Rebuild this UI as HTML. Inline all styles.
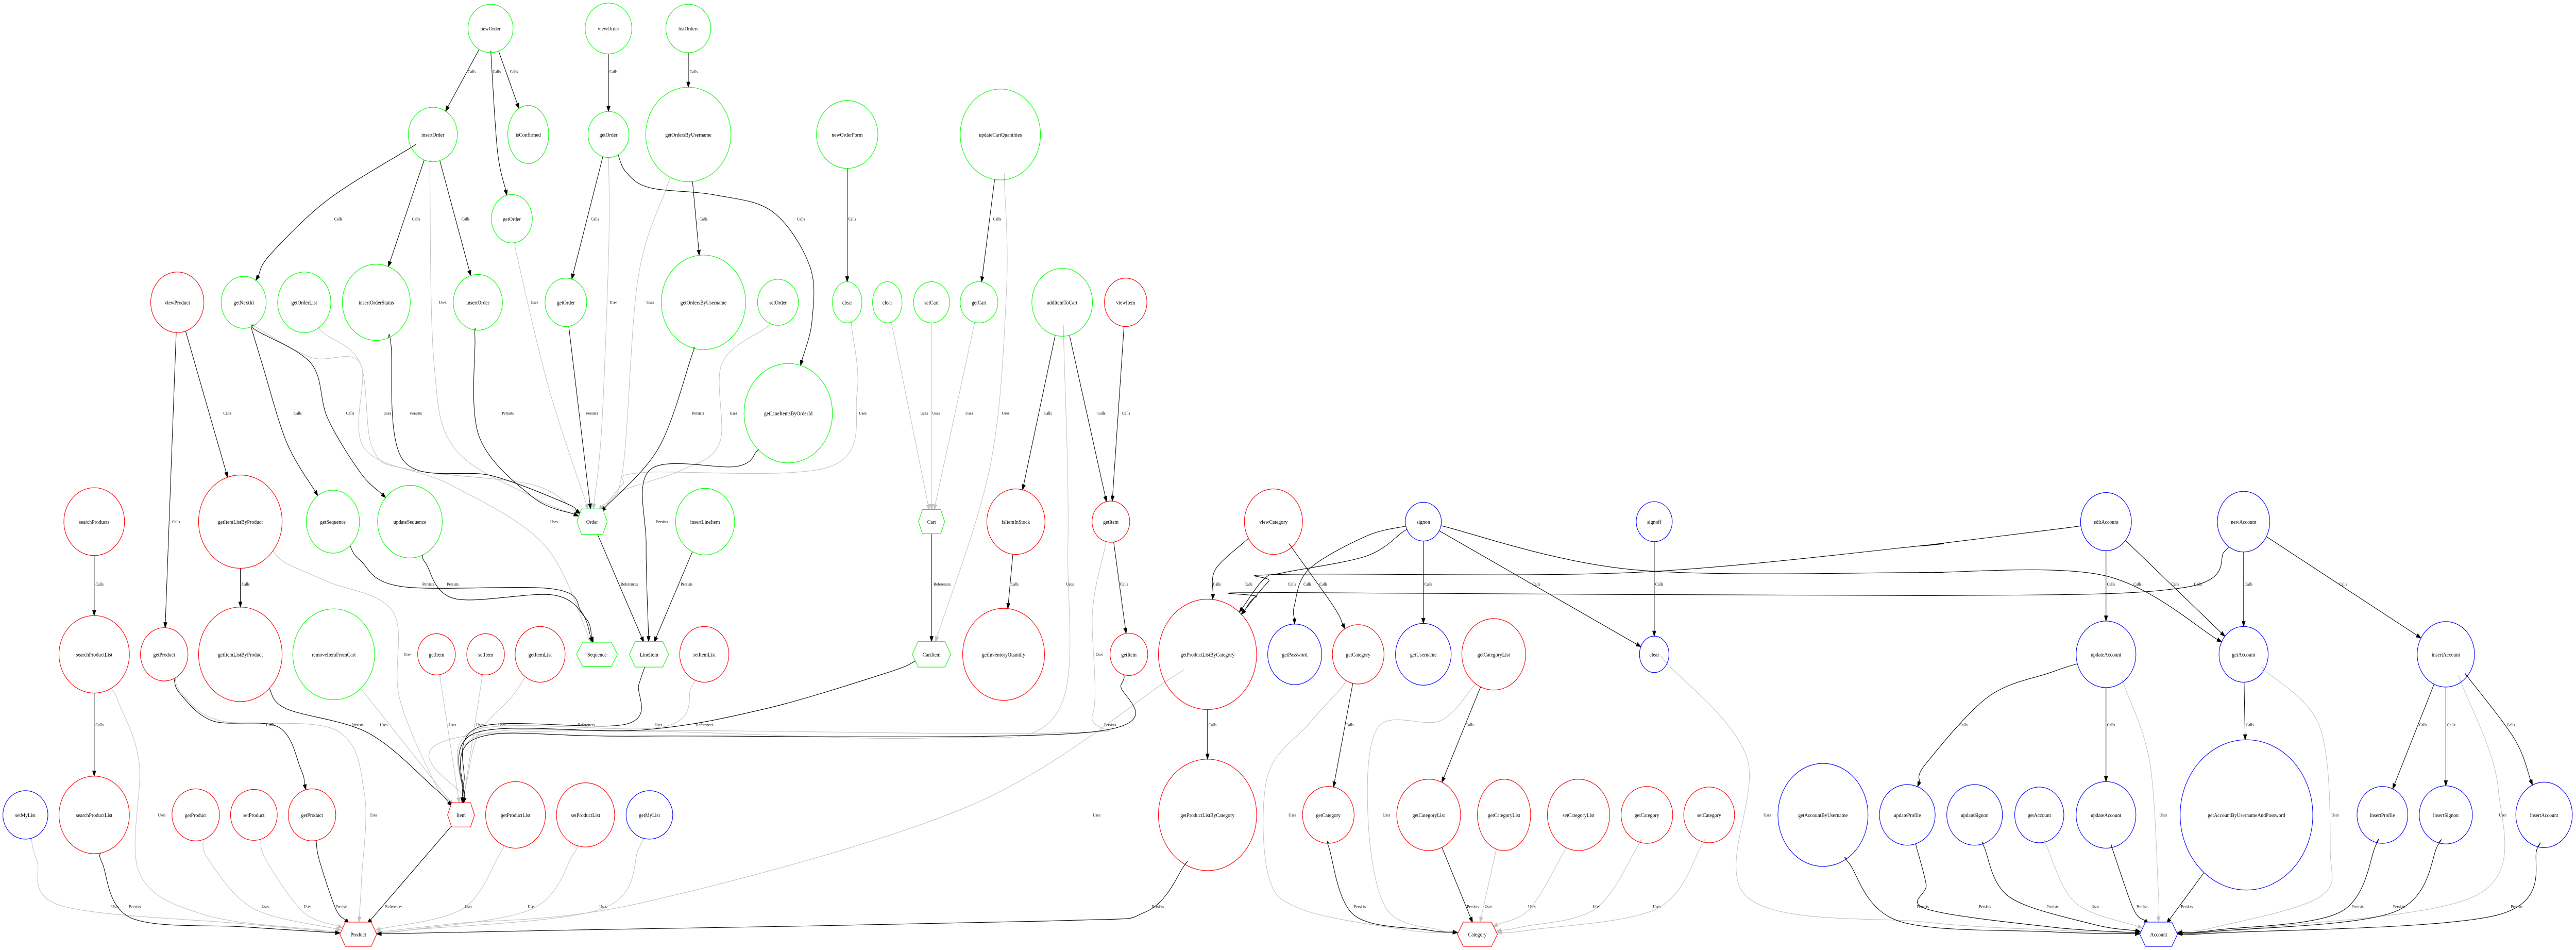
<!DOCTYPE html>
<html><head><meta charset="utf-8">
<style>
html,body{margin:0;padding:0;background:#fff;width:100%;height:100%;overflow:hidden;}
svg{display:block;position:absolute;left:0;top:0;width:100vw;height:100vh;}
.nl{font-family:"Liberation Serif",serif;font-size:11px;}
.el{font-family:"Liberation Serif",serif;font-size:8.5px;}
</style></head>
<body>
<svg id="g" xmlns="http://www.w3.org/2000/svg" viewBox="0 0 5617 1843" preserveAspectRatio="none"></svg>
<script>
const SX=1400/1568, SY=1843/1568;
const b=x=>1568+x, c=x=>3136+x, d=x=>4704+x*1.0121;
const G='#00ff00',R='#ff0000',B='#0000ff';
const N={};
function n(id,x,y,rx,ry,col,label,hex){N[id]={x:x*SX,y:y*SY,rx:rx*SX,ry:ry*SY,col:col,label:label,hex:!!hex};}
// tile 1
n('newOrder',1198,47,55,40,G,'newOrder');
n('viewOrder',1486,47,57,42,G,'viewOrder');
n('insOrd1',1057,222,60,45,G,'insertOrder');
n('isConf',1290,222,50,48,G,'isConfirmed');
n('getOrdA',1486,222,50,38,G,'getOrder');
n('getOrdB',1250,361,50,40,G,'getOrder');
n('viewProduct',433,499,65,50,R,'viewProduct');
n('getNextId',595,499,55,43,G,'getNextId');
n('getOrderList',743,499,65,50,G,'getOrderList');
n('insOrdStat',919,499,83,63,G,'insertOrderStatus');
n('insOrd2',1167,499,60,46,G,'insertOrder');
n('getOrdC',1382,499,51,40,G,'getOrder');
n('searchProducts',230,861,74,56,R,'searchProducts');
n('gilbp1',587,861,102,77,R,'getItemListByProduct');
n('getSequence',813,861,65,52,G,'getSequence');
n('updateSequence',1001,861,79,60,G,'updateSequence');
n('Order',1446,861,37,21,G,'Order',1);
n('spl1',230,1080,86,64,R,'searchProductList');
n('getProdA',401,1080,58,44,R,'getProduct');
n('gilbp2',587,1080,102,78,R,'getItemListByProduct');
n('removeItem',815,1080,100,75,G,'removeItemFromCart');
n('getItemA',1066,1080,46,34,R,'getItem');
n('setItemA',1186,1080,46,34,R,'setItem');
n('getItemList',1319,1080,61,46,R,'getItemList');
n('Sequence',1458,1080,50,20,G,'Sequence',1);
n('LineItem',1585,1080,48,21,G,'LineItem',1);
n('setMyList',62,1345,55,40,B,'setMyList');
n('spl2',230,1345,86,64,R,'searchProductList');
n('getProdB',478,1345,58,43,R,'getProduct');
n('setProduct',620,1345,57,42,R,'setProduct');
n('getProdC',762,1345,58,43,R,'getProduct');
n('Item',1126,1345,33,20,R,'Item',1);
n('getProductList',1259,1345,73,55,R,'getProductList');
n('setProductList',1430,1345,71,53,R,'setProductList');
n('getMyList',1586,1345,57,40,B,'getMyList');
n('Product',875,1542,45,20,R,'Product',1);
// tile 2
n('listOrders',b(113),47,55,40,G,'listOrders');
n('gobu1',b(113),222,104,78,G,'getOrdersByUsername');
n('newOrderForm',b(501),222,75,56,G,'newOrderForm');
n('updCart',b(875),222,98,75,G,'updateCartQuantities');
n('gobu2',b(150),499,103,78,G,'getOrdersByUsername');
n('setOrder',b(332),499,50,38,G,'setOrder');
n('clearA',b(501),499,36,34,G,'clear');
n('clearB',b(599),499,36,34,G,'clear');
n('setCart',b(707),499,44,34,G,'setCart');
n('getCart',b(823),499,46,34,G,'getCart');
n('addItemToCart',b(1026),499,74,56,G,'addItemToCart');
n('viewItem',b(1181),499,52,40,R,'viewItem');
n('glibo',b(357),682,108,82,G,'getLineItemsByOrderId');
n('insertLineItem',b(154),861,72,55,G,'insertLineItem');
n('Cart',b(707),861,32,20,G,'Cart',1);
n('isItemInStock',b(913),861,71,54,R,'isItemInStock');
n('getItemB',b(1145),861,46,34,R,'getItem');
n('viewCategory',3110,861,71,54,R,'viewCategory');
n('setItemList',b(152),1080,60,46,R,'setItemList');
n('CartItem',b(707),1080,47,21,G,'CartItem',1);
n('getInv',b(883),1080,100,76,R,'getInventoryQuantity');
n('getItemC',b(1189),1080,46,35,R,'getItem');
n('gplbc1',b(1381),1080,120,91,R,'getProductListByCategory');
n('getPassword',3162,1080,66,50,B,'getPassword');
n('gplbc2',b(1381),1345,120,92,R,'getProductListByCategory');
// tile 3
n('signon',c(340),861,44,32,B,'signon');
n('signoff',c(904),861,44,33,B,'signoff');
n('getCatA',c(181),1080,63,49,R,'getCategory');
n('getUsername',c(340),1080,68,51,B,'getUsername');
n('getCatListA',c(512),1080,78,59,R,'getCategoryList');
n('clearC',c(904),1080,36,30,B,'clear');
n('getCatB',c(108),1345,63,47,R,'getCategory');
n('getCatListB',c(353),1345,78,59,R,'getCategoryList');
n('getCatListC',c(537),1345,65,59,R,'getCategoryList');
n('setCatList',c(719),1345,76,59,R,'setCategoryList');
n('getCatC',c(886),1345,63,47,R,'getCategory');
n('setCategory',c(1038),1345,62,46,R,'setCategory');
n('gabu',c(1316),1345,110,85,B,'getAccountByUsername');
n('updProfile',c(1522),1345,68,50,B,'updateProfile');
n('Category',c(472),1542,49,20,R,'Category',1);
// tile 4
n('editAccount',d(434),861,62,48,B,'editAccount');
n('newAccount',d(766),861,64,50,B,'newAccount');
n('updAccA',d(434),1080,73,55,B,'updateAccount');
n('getAccA',d(766),1080,60,46,B,'getAccount');
n('insAccA',d(1254),1080,70,54,B,'insertAccount');
n('updSignon',d(117),1345,68,50,B,'updateSignon');
n('getAccB',d(273),1345,60,46,B,'getAccount');
n('updAccB',d(434),1345,73,55,B,'updateAccount');
n('gabuap',d(773),1345,162,124,B,'getAccountByUsernameAndPassword');
n('insProfile',d(1101),1345,62,47,B,'insertProfile');
n('insSignon',d(1254),1345,65,48,B,'insertSignon');
n('insAccB',d(1491),1345,69,54,B,'insertAccount');
n('Account',d(561),1542,46,20,B,'Account',1);

const E=[];
function e(s,t,lab,gray,lx,ly,w){E.push({s:s,t:t,lab:lab,gray:gray,lx:lx,ly:ly,w:w||[]});}
const K=0,U=1;
// tile1
e('newOrder','insOrd1','Calls',K,1152,118);
e('newOrder','getOrdB','Calls',K,1213,118,[[1200,100],[1215,250]]);
e('newOrder','isConf','Calls',K,1255,118);
e('viewOrder','getOrdA','Calls',K,1498,118);
e('insOrd1','getNextId','Calls',K,826,361,[[1000,245],[800,330],[660,420]]);
e('insOrd1','insOrdStat','Calls',K,1016,361);
e('insOrd1','insOrd2','Calls',K,1137,361);
e('insOrd1','Order','Uses',U,1081,499,[[1050,300],[1060,600],[1110,740],[1300,820]]);
e('getOrdA','getOrdC','Calls',K,1453,361);
e('getOrdA','Order','Uses',U,1498,499,[[1487,400],[1470,700]]);
e('getOrdA','glibo','Calls',K,b(388),361,[[1530,285],[b(20),310],[b(180),322],[b(320),350],[b(410),440],[b(415),530]]);
e('getOrdB','Order','Uses',U,1305,499,[[1265,430],[1340,640]]);
e('getNextId','getSequence','Calls',K,727,682,[[640,600],[700,730]]);
e('getNextId','updateSequence','Calls',K,855,682,[[625,545],[760,600],[800,690],[880,780]]);
e('getOrderList','Order','Uses',U,946,682,[[790,550],[880,600],[910,740],[1000,775],[1300,800]]);
e('insOrdStat','Order','Persists',K,1016,682,[[955,570],[985,760],[1200,785],[1380,830]]);
e('insOrd2','Order','Persists',K,1240,682,[[1160,560],[1170,720],[1300,820]]);
e('getOrdC','Order','Persists',K,1446,682);
e('getNextId','Sequence','Uses',U,1353,861,[[625,540],[760,590],[880,600],[890,740],[1100,800],[1330,900]]);
e('viewProduct','getProdA','Calls',K,430,861);
e('viewProduct','gilbp1','Calls',K,555,682);
e('searchProducts','spl1','Calls',K,243,964);
e('gilbp1','gilbp2','Calls',K,600,964);
e('gilbp1','Item','Uses',U,995,1080,[[700,930],[800,960],[960,1010],[975,1150],[1060,1290]]);
e('getSequence','Sequence','Persists',K,1046,964,[[880,925],[980,968],[1350,972],[1420,1010]]);
e('updateSequence','Sequence','Persists',K,1106,964,[[1040,930],[1110,988],[1350,982],[1430,1020]]);
e('Order','LineItem','References',K,1537,964);
e('spl1','spl2','Calls',K,243,1196);
e('spl1','Product','Uses',U,395,1345,[[290,1160],[340,1260],[340,1440],[500,1510],[780,1535]]);
e('getProdA','getProdC','Calls',K,660,1196,[[440,1145],[520,1190],[680,1200],[735,1270]]);
e('getProdA','Product','Uses',U,912,1345,[[445,1145],[540,1190],[820,1205],[890,1310],[883,1450]]);
e('gilbp2','Item','Persists',K,873,1196,[[700,1170],[900,1210],[1060,1300]]);
e('removeItem','Item','Uses',U,937,1196);
e('getItemA','Item','Uses',U,1105,1196);
e('setItemA','Item','Uses',U,1172,1196);
e('getItemList','Item','Uses',U,1226,1196,[[1250,1150],[1170,1210],[1140,1290]]);
e('LineItem','Item','References',K,1432,1196,[[1560,1130],[1530,1195],[1170,1200],[1133,1290]]);
e('setMyList','Product','Uses',U,281,1496,[[90,1420],[150,1495],[600,1525]]);
e('spl2','Product','Persists',K,329,1496,[[250,1425],[320,1515],[600,1530]]);
e('getProdB','Product','Uses',U,648,1496,[[510,1420],[620,1500]]);
e('setProduct','Product','Uses',U,751,1496,[[650,1420],[740,1505]]);
e('getProdC','Product','Persists',K,834,1496,[[780,1420],[820,1500]]);
e('Item','Product','References',K,962,1496);
e('getProductList','Product','Uses',U,1144,1496,[[1220,1410],[1130,1500]]);
e('setProductList','Product','Uses',U,1298,1496,[[1400,1410],[1300,1500],[1000,1535]]);
e('getMyList','Product','Uses',U,1473,1496,[[1560,1400],[1470,1500],[1000,1535]]);
e('gplbc2','Product','Persists',K,b(1260),1496,[[b(1325),1428],[b(1230),1505],[b(1000),1520],[1400,1535]]);
e('gplbc1','Product','Uses',U,b(1110),1345,[[b(1290),1120],[b(800),1330],[b(0),1490],[1100,1525]]);
// tile2
e('listOrders','gobu1','Calls',K,b(126),118);
e('gobu1','gobu2','Calls',K,b(150),361);
e('gobu1','Order','Uses',U,b(20),499,[[b(60),310],[b(-10),460],[1520,780]]);
e('gobu2','Order','Persists',K,b(137),682,[[b(120),590],[b(40),740]]);
e('setOrder','Order','Uses',U,b(223),682,[[b(305),540],[b(195),600],[b(190),730],[b(100),775],[1520,810]]);
e('clearA','Order','Uses',U,b(539),682,[[b(512),540],[b(525),650],[b(460),770],[b(0),780],[1520,800]]);
e('newOrderForm','clearA','Calls',K,b(513),361);
e('updCart','getCart','Calls',K,b(867),361);
e('updCart','CartItem','Uses',U,b(888),682,[[b(885),300],[b(890),480],[b(850),770]]);
e('glibo','LineItem','Persists',K,b(49),861,[[b(280),745],[b(230),770],[b(20),775],[b(10),900]]);
e('clearB','Cart','Uses',U,b(689),682);
e('setCart','Cart','Uses',U,b(718),682);
e('getCart','Cart','Uses',U,b(799),682);
e('addItemToCart','isItemInStock','Calls',K,b(991),682);
e('addItemToCart','getItemB','Calls',K,b(1122),682);
e('addItemToCart','Item','Uses',U,b(1045),964,[[b(1030),565],[b(1040),900],[b(1010),1180],[b(700),1218],[b(0),1207],[1165,1215]]);
e('viewItem','getItemB','Calls',K,b(1182),682);
e('insertLineItem','LineItem','Persists',K,b(109),964);
e('Cart','CartItem','References',K,b(733),964);
e('isItemInStock','getInv','Calls',K,b(910),964);
e('getItemB','getItemC','Calls',K,b(1177),964);
e('getItemB','Item','Uses',U,b(1117),1080,[[b(1130),905],[b(1100),1010],[b(1100),1180],[b(1000),1210],[1160,1213]]);
e('setItemList','Item','Uses',U,b(40),1196,[[b(120),1135],[b(50),1200],[1160,1205]]);
e('CartItem','Item','References',K,b(153),1196,[[b(600),1110],[b(300),1170],[b(0),1205],[1160,1210]]);
e('getItemC','Item','Persists',K,b(1143),1196,[[b(1170),1130],[b(1100),1208],[b(0),1215],[1165,1218]]);
e('viewCategory','gplbc1','Calls',K,b(1404),964,[[b(1470),895],[b(1400),940]]);
e('gplbc1','gplbc2','Calls',K,b(1393),1196);
e('signon','gplbc1','Calls',K,b(1481),964,[[c(290),878],[c(200),918],[c(0),945],[b(1520),955]]);
e('editAccount','gplbc1','Calls',K,c(19),964,[[d(330),872],[d(0),900],[c(1568),900],[c(850),945],[c(0),948],[b(1530),960]]);
e('newAccount','gplbc1','Calls',K,d(656),964,[[d(720),910],[d(620),970],[d(0),983],[c(0),978],[b(1500),985]]);
// tile3
e('viewCategory','getCatA','Calls',K,c(96),964,[[c(20),905],[c(120),1000]]);
e('signon','getPassword','Calls',K,c(57),964,[[c(200),885],[c(60),940],[c(25),1000]]);
e('signon','getAccA','Calls',K,d(510),964,[[c(850),940],[c(1568),945],[d(0),945],[d(430),950]]);
e('signon','getUsername','Calls',K,c(352),964);
e('signon','clearC','Calls',K,c(616),964);
e('signoff','clearC','Calls',K,c(916),964);
e('getCatA','getCatB','Calls',K,c(160),1196);
e('getCatA','Category','Uses',U,c(20),1345,[[c(140),1135],[c(60),1195],[c(-40),1280],[c(-40),1440],[c(40),1500],[c(300),1535]]);
e('getCatListA','getCatListB','Calls',K,c(453),1196);
e('getCatListA','Category','Uses',U,c(250),1345,[[c(460),1135],[c(380),1190],[c(230),1200],[c(205),1350],[c(250),1500],[c(380),1535]]);
e('clearC','Account','Uses',U,c(1180),1345,[[c(935),1095],[c(1130),1250],[c(1130),1480],[c(1568),1522],[d(300),1535]]);
e('getCatB','Category','Persists',K,c(185),1496,[[c(110),1400],[c(170),1510],[c(350),1535]]);
e('getCatListB','Category','Persists',K,c(461),1496);
e('getCatListC','Category','Uses',U,c(499),1496);
e('setCatList','Category','Uses',U,c(605),1496,[[c(680),1410],[c(600),1500]]);
e('getCatC','Category','Uses',U,c(763),1496,[[c(865),1395],[c(760),1500],[c(580),1530]]);
e('setCategory','Category','Uses',U,c(910),1496,[[c(1020),1395],[c(910),1500],[c(600),1535]]);
e('gabu','Account','Persists',K,c(1560),1496,[[c(1380),1425],[c(1500),1520],[d(300),1538]]);
e('updProfile','Account','Persists',K,d(142),1496,[[c(1545),1400],[c(1568),1460],[d(0),1500],[d(300),1530]]);
e('updAccA','updProfile','Calls',K,d(90),1196,[[d(300),1110],[d(150),1150],[d(0),1260]]);
// tile4
e('editAccount','updAccA','Calls',K,d(446),964);
e('editAccount','getAccA','Calls',K,d(601),964);
e('newAccount','getAccA','Calls',K,d(778),964);
e('newAccount','insAccA','Calls',K,d(1006),964);
e('updAccA','updAccB','Calls',K,d(446),1196);
e('updAccA','Account','Uses',U,d(572),1345,[[d(480),1135],[d(540),1260],[d(560),1470]]);
e('getAccA','gabuap','Calls',K,d(781),1196);
e('getAccA','Account','Uses',U,d(987),1345,[[d(820),1108],[d(950),1200],[d(975),1400],[d(950),1480],[d(700),1530]]);
e('insAccA','insProfile','Calls',K,d(1199),1196);
e('insAccA','insSignon','Calls',K,d(1267),1196);
e('insAccA','insAccB','Calls',K,d(1411),1196,[[d(1310),1120],[d(1420),1220]]);
e('insAccA','Account','Uses',U,d(1391),1345,[[d(1292),1128],[d(1380),1300],[d(1335),1475],[d(800),1532]]);
e('updSignon','Account','Persists',K,d(305),1496,[[d(140),1398],[d(200),1480],[d(400),1525]]);
e('getAccB','Account','Uses',U,d(408),1496,[[d(290),1395],[d(360),1490]]);
e('updAccB','Account','Persists',K,d(522),1496,[[d(450),1402],[d(500),1500]]);
e('gabuap','Account','Persists',K,d(629),1496);
e('insProfile','Account','Persists',K,d(1041),1496,[[d(1085),1395],[d(1000),1505],[d(700),1535]]);
e('insSignon','Account','Persists',K,d(1141),1496,[[d(1235),1395],[d(1130),1505],[d(700),1537]]);
e('insAccB','Account','Persists',K,d(1425),1496,[[d(1475),1400],[d(1380),1510],[d(700),1540]]);

const svg=document.getElementById('g');
const NS='http://www.w3.org/2000/svg';
function el(tag,attrs,txt){const x=document.createElementNS(NS,tag);for(const k in attrs)x.setAttribute(k,attrs[k]);if(txt!=null)x.textContent=txt;svg.appendChild(x);return x;}
function bnd(nd,px,py){let dx=px-nd.x,dy=py-nd.y;if(Math.abs(dx)<1e-6&&Math.abs(dy)<1e-6)dy=1;const k=1/Math.sqrt((dx/nd.rx)**2+(dy/nd.ry)**2);return [nd.x+dx*k,nd.y+dy*k];}
const f=v=>v.toFixed(1);
const order=E.filter(x=>x.gray).concat(E.filter(x=>!x.gray));
for(const ed of order){
  const s=N[ed.s],t=N[ed.t]; if(!s||!t)continue;
  const w=ed.w.map(p=>[p[0]*SX,p[1]*SY]);
  const first=w.length?w[0]:[t.x,t.y];
  const last=w.length?w[w.length-1]:[s.x,s.y];
  const P0=bnd(s,first[0],first[1]);
  const PE=bnd(t,last[0],last[1]);
  const pts=[P0].concat(w).concat([PE]);
  const pv=pts[pts.length-2];
  let ux=PE[0]-pv[0],uy=PE[1]-pv[1];const L=Math.hypot(ux,uy)||1;ux/=L;uy/=L;
  const AL=10,AW=3.6;
  const base=[PE[0]-ux*AL,PE[1]-uy*AL];
  pts[pts.length-1]=base;
  let dstr='M'+f(pts[0][0])+' '+f(pts[0][1]);
  for(let i=0;i<pts.length-1;i++){
    const p0=pts[i-1]||pts[i],p1=pts[i],p2=pts[i+1],p3=pts[i+2]||pts[i+1];
    const c1=[p1[0]+(p2[0]-p0[0])/6,p1[1]+(p2[1]-p0[1])/6];
    const c2=[p2[0]-(p3[0]-p1[0])/6,p2[1]-(p3[1]-p1[1])/6];
    dstr+=' C'+f(c1[0])+' '+f(c1[1])+' '+f(c2[0])+' '+f(c2[1])+' '+f(p2[0])+' '+f(p2[1]);
  }
  const col=ed.gray?'#c0c0c0':'#000';
  el('path',{d:dstr,fill:'none',stroke:col,'stroke-width':'1.1'});
  el('polygon',{points:f(PE[0])+','+f(PE[1])+' '+f(base[0]-uy*AW)+','+f(base[1]+ux*AW)+' '+f(base[0]+uy*AW)+','+f(base[1]-ux*AW),fill:col,stroke:col,'stroke-width':'1'});
  el('text',{x:f(ed.lx*SX),y:f(ed.ly*SY+3),'text-anchor':'middle','class':'el',fill:'#000'},ed.lab);
}
for(const id in N){
  const nd=N[id];
  if(nd.hex){
    const hw=nd.rx,hh=nd.ry,ins=hw*0.3;
    const p=[[nd.x-hw,nd.y],[nd.x-hw+ins,nd.y-hh],[nd.x+hw-ins,nd.y-hh],[nd.x+hw,nd.y],[nd.x+hw-ins,nd.y+hh],[nd.x-hw+ins,nd.y+hh]];
    el('polygon',{points:p.map(q=>f(q[0])+','+f(q[1])).join(' '),fill:'#fff',stroke:nd.col,'stroke-width':'1.2'});
  }else{
    el('ellipse',{cx:f(nd.x),cy:f(nd.y),rx:f(nd.rx),ry:f(nd.ry),fill:'none',stroke:nd.col,'stroke-width':'1.2'});
  }
  el('text',{x:f(nd.x),y:f(nd.y+4),'text-anchor':'middle','class':'nl',fill:'#000'},nd.label);
}
</script>
</body></html>
